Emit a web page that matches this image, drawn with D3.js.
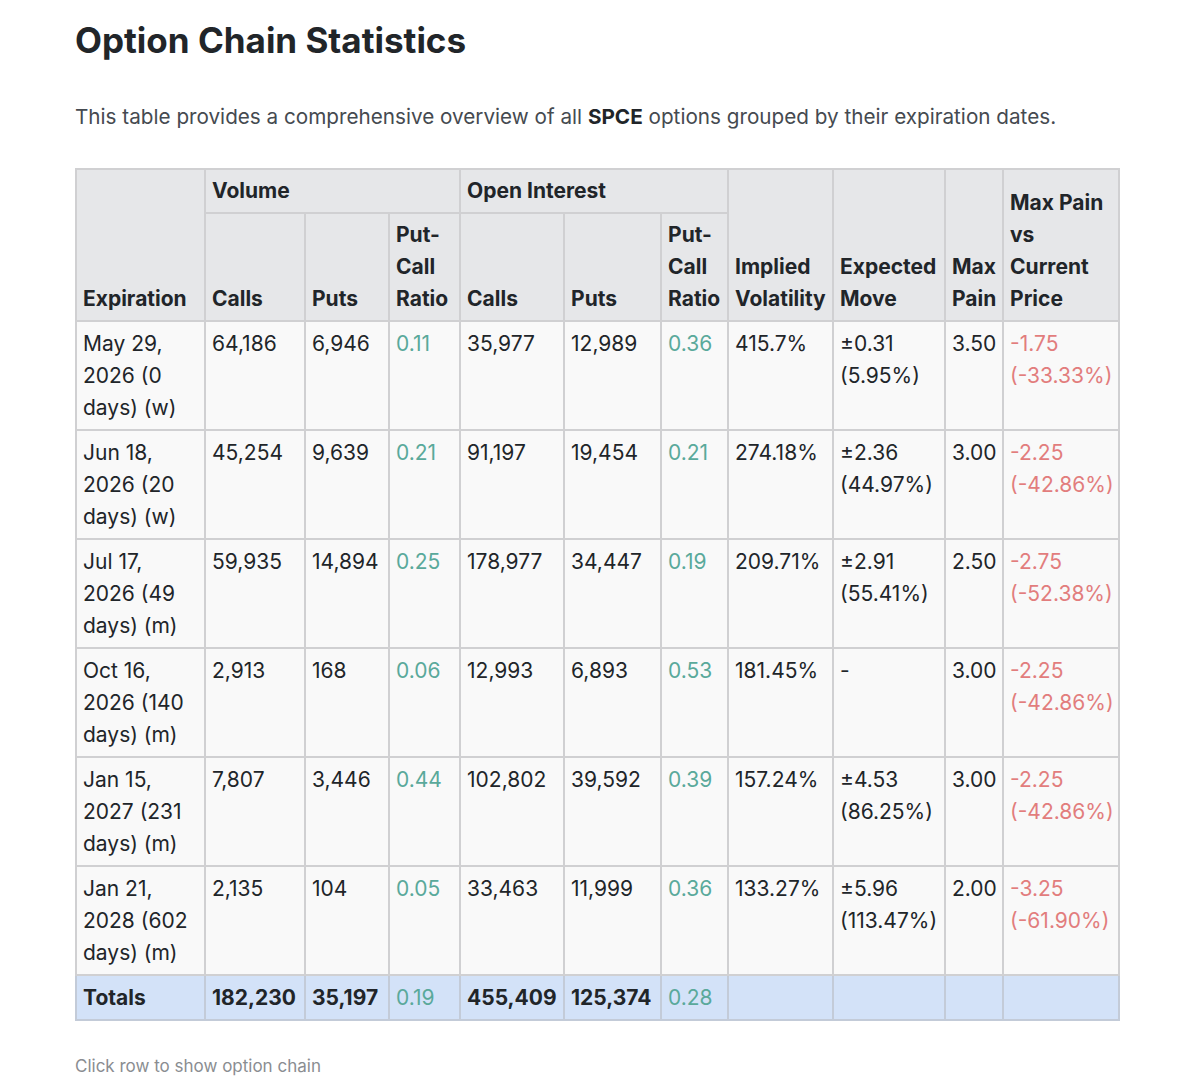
<!DOCTYPE html>
<html>
<head>
<meta charset="utf-8">
<script src="https://cdn.jsdelivr.net/npm/d3@7"></script>
<style>
    body {
        margin: 0;
        background: #fff;
        font-family: Inter, "Noto Sans", sans-serif;
        color: #212529;
    }
    #title {
        position: absolute; left: 75px; top: 20px;
        font-size: 35px; line-height: 40px; font-weight: 700;
    }
    #intro {
        position: absolute; left: 75px; top: 103px;
        font-size: 20.7px; line-height: 28px; color: #454a50;
    }
    #intro b { color: #212529; }
    #footer {
        position: absolute; left: 75px; top: 1054px;
        font-size: 17px; line-height: 24px; color: #8a8d91;
    }
    table {
        position: absolute; left: 75px; top: 168px;
        border-collapse: collapse; table-layout: fixed; width: 1043px;
        font-size: 21px; line-height: 32px;
    }
    th, td {
        border: 2px solid #d0d0d2;
        padding: 6px 6px 5px 6px;
        text-align: left;
        vertical-align: top;
        white-space: nowrap;
        overflow: hidden;
    }
    thead th { background: #e6e7e9; vertical-align: bottom; font-weight: 700; padding-top: 5px; }
    tbody td { background: #f9f9f9; font-weight: 400; }
    tfoot td { background: #d3e2f8; font-weight: 700; border-color: #c3cbd8; vertical-align: middle; }
    .up { color: #5aa99b; }
    .down { color: #e27d7d; }
    tfoot .up { font-weight: 400; }
</style>
</head>
<body>
<div id="title">Option Chain Statistics</div>
<div id="intro">This table provides a comprehensive overview of all <b>SPCE</b> options grouped by their expiration dates.</div>
<div id="footer">Click row to show option chain</div>
<script>
// 表格数据
const expirations = [
    "May 29, 2026 (0 days) (w)",
    "Jun 18, 2026 (20 days) (w)",
    "Jul 17, 2026 (49 days) (m)",
    "Oct 16, 2026 (140 days) (m)",
    "Jan 15, 2027 (231 days) (m)",
    "Jan 21, 2028 (602 days) (m)"
];
const volCalls = [64186, 45254, 59935, 2913, 7807, 2135];
const volPuts = [6946, 9639, 14894, 168, 3446, 104];
const volRatio = [0.11, 0.21, 0.25, 0.06, 0.44, 0.05];
const oiCalls = [35977, 91197, 178977, 12993, 102802, 33463];
const oiPuts = [12989, 19454, 34447, 6893, 39592, 11999];
const oiRatio = [0.36, 0.21, 0.19, 0.53, 0.39, 0.36];
const impliedVol = [415.7, 274.18, 209.71, 181.45, 157.24, 133.27];
const expMove = [0.31, 2.36, 2.91, null, 4.53, 5.96];
const expMovePct = [5.95, 44.97, 55.41, null, 86.25, 113.47];
const maxPain = [3.50, 3.00, 2.50, 3.00, 3.00, 2.00];
const painDiff = [-1.75, -2.25, -2.75, -2.25, -2.25, -3.25];
const painDiffPct = [-33.33, -42.86, -52.38, -42.86, -42.86, -61.90];

// 表头
const headTop = [
    {lines: ["Expiration"], rowspan: 2},
    {lines: ["Volume"], colspan: 3},
    {lines: ["Open Interest"], colspan: 3},
    {lines: ["Implied", "Volatility"], rowspan: 2},
    {lines: ["Expected", "Move"], rowspan: 2},
    {lines: ["Max", "Pain"], rowspan: 2},
    {lines: ["Max Pain", "vs", "Current", "Price"], rowspan: 2}
];
const headSub = [
    ["Calls"], ["Puts"], ["Put-", "Call", "Ratio"],
    ["Calls"], ["Puts"], ["Put-", "Call", "Ratio"]
];

// 列宽
const colWidths = [129, 100, 84, 71, 104, 97, 67, 105, 112, 58, 116];

const locale = d3.formatLocale({decimal: ".", thousands: ",", grouping: [3], currency: ["$", ""], minus: "-"});
const fmtInt = locale.format(",");
const fmt2 = locale.format(".2f");

// 日期每两个词一行
const wrapPairs = s => {
    const w = s.split(" ");
    return d3.range(0, w.length, 2).map(i => w.slice(i, i + 2).join(" "));
};

const setLines = (sel) => sel.each(function (d) {
    const cell = d3.select(this);
    (d.lines || []).forEach((l, i) => {
        if (i) cell.append("br");
        cell.append("span").text(l);
    });
});

const rows = expirations.map((e, i) => [
    {lines: wrapPairs(e)},
    {lines: [fmtInt(volCalls[i])]},
    {lines: [fmtInt(volPuts[i])]},
    {lines: [fmt2(volRatio[i])], cls: "up"},
    {lines: [fmtInt(oiCalls[i])]},
    {lines: [fmtInt(oiPuts[i])]},
    {lines: [fmt2(oiRatio[i])], cls: "up"},
    {lines: [impliedVol[i] + "%"]},
    {lines: expMove[i] == null ? ["-"] : ["±" + fmt2(expMove[i]), "(" + fmt2(expMovePct[i]) + "%)"]},
    {lines: [fmt2(maxPain[i])]},
    {lines: [fmt2(painDiff[i]), "(" + fmt2(painDiffPct[i]) + "%)"], cls: "down"}
]);

const totVolCalls = d3.sum(volCalls), totVolPuts = d3.sum(volPuts);
const totOiCalls = d3.sum(oiCalls), totOiPuts = d3.sum(oiPuts);
const totals = [
    {lines: ["Totals"]},
    {lines: [fmtInt(totVolCalls)]},
    {lines: [fmtInt(totVolPuts)]},
    {lines: [fmt2(totVolPuts / totVolCalls)], cls: "up"},
    {lines: [fmtInt(totOiCalls)]},
    {lines: [fmtInt(totOiPuts)]},
    {lines: [fmt2(totOiPuts / totOiCalls)], cls: "up"},
    {}, {}, {}, {}
];

const table = d3.select("body").append("table");

table.append("colgroup").selectAll("col")
    .data(colWidths)
    .join("col")
    .style("width", d => d + "px");

const thead = table.append("thead");
thead.append("tr").selectAll("th")
    .data(headTop)
    .join("th")
    .attr("rowspan", d => d.rowspan || null)
    .attr("colspan", d => d.colspan || null)
    .call(setLines);
thead.append("tr").selectAll("th")
    .data(headSub.map(l => ({lines: l})))
    .join("th")
    .call(setLines);

table.append("tbody").selectAll("tr")
    .data(rows)
    .join("tr")
    .selectAll("td")
    .data(d => d)
    .join("td")
    .attr("class", d => d.cls || null)
    .call(setLines);

table.append("tfoot").append("tr").selectAll("td")
    .data(totals)
    .join("td")
    .attr("class", d => d.cls || null)
    .call(setLines);
</script>
</body>
</html>
